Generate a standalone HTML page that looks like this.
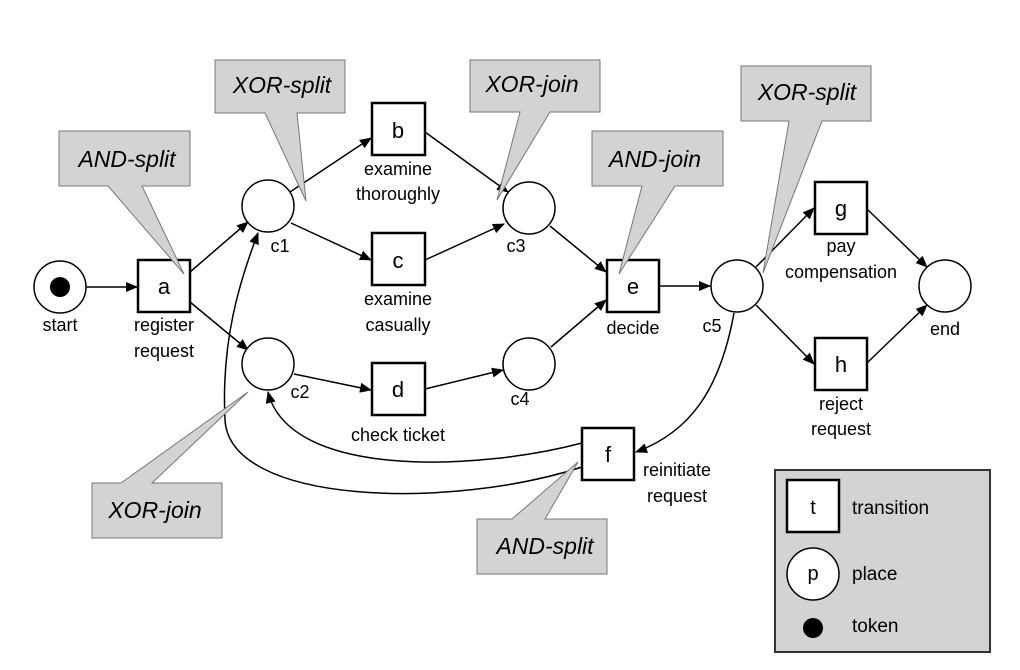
<!DOCTYPE html>
<html><head><meta charset="utf-8"><style>
body{margin:0;background:#fff}
svg text{font-family:"Liberation Sans",Arial,sans-serif;fill:#000}
.l{font-size:18px;text-anchor:middle}
.t{font-size:22px;text-anchor:middle}
.c{font-size:23px;font-style:italic;text-anchor:middle}
</style></head><body>
<svg width="1020" height="665" viewBox="0 0 1020 665" xmlns="http://www.w3.org/2000/svg">
<defs><marker id="ar" markerWidth="12" markerHeight="10" refX="11" refY="5" orient="auto" markerUnits="userSpaceOnUse"><path d="M0,0 L12,5 L0,10 Z" fill="#000"/></marker></defs>
<g stroke="#000" stroke-width="1.5" fill="none" marker-end="url(#ar)">
<line x1="86" y1="287" x2="137" y2="287"/>
<line x1="190" y1="272" x2="248" y2="222"/>
<line x1="190" y1="302" x2="248" y2="350"/>
<line x1="290" y1="192" x2="371" y2="138"/>
<line x1="291" y1="223" x2="371" y2="260"/>
<line x1="294" y1="374" x2="371" y2="390"/>
<line x1="425" y1="132" x2="508" y2="192"/>
<line x1="425" y1="260" x2="504" y2="224"/>
<line x1="425" y1="389" x2="503" y2="370"/>
<line x1="550" y1="226" x2="606" y2="272"/>
<line x1="551" y1="347" x2="606" y2="300"/>
<line x1="659" y1="286" x2="710" y2="286"/>
<line x1="756" y1="267" x2="814" y2="208"/>
<line x1="756" y1="305" x2="814" y2="364"/>
<line x1="867" y1="209" x2="927" y2="267"/>
<line x1="867" y1="363" x2="927" y2="305"/>
<path d="M734 313 C720 390 690 432 636 452"/>
<path d="M582 443 C480 470 290 480 268 392"/>
<path d="M582 467 C450 510 230 505 225 420 C221 340 240 280 258 233"/>
</g>
<g stroke="#000" stroke-width="1.5" fill="#fff">
<circle cx="60" cy="287" r="26"/>
<circle cx="268" cy="206" r="26"/>
<circle cx="268" cy="364" r="26"/>
<circle cx="529" cy="208" r="26"/>
<circle cx="529" cy="364" r="26"/>
<circle cx="737" cy="286" r="26"/>
<circle cx="945" cy="286" r="26"/>
</g>
<g stroke="#000" stroke-width="2.5" fill="#fff">
<rect x="138" y="260" width="52" height="52"/>
<rect x="372" y="103" width="53" height="52"/>
<rect x="372" y="233" width="53" height="52"/>
<rect x="372" y="363" width="53" height="52"/>
<rect x="607" y="260" width="52" height="52"/>
<rect x="815" y="182" width="52" height="52"/>
<rect x="815" y="338" width="52" height="52"/>
<rect x="582" y="428" width="52" height="52"/>
</g>
<circle cx="60" cy="287" r="10" fill="#000"/>
<g stroke="#777" stroke-width="1" fill="#d3d3d3">
<path d="M59 131 H190 V186 H142 L184 274 L108 186 H59 Z"/>
<path d="M215 60 H345 V113 H297 L306 201 L265 113 H215 Z"/>
<path d="M470 60 H600 V112 H550 L497 200 L520 112 H470 Z"/>
<path d="M592 131 H723 V186 H675 L619 274 L642 186 H592 Z"/>
<path d="M741 66 H871 V121 H822 L763 273 L789 121 H741 Z"/>
<path d="M92 483 H121 L248 392 L152 483 H222 V538 H92 Z"/>
<path d="M477 519 H512 L578 462 L545 519 H607 V574 H477 Z"/>
</g>
<text class="c" x="127" y="167">AND-split</text>
<text class="c" x="282" y="93">XOR-split</text>
<text class="c" x="532" y="92">XOR-join</text>
<text class="c" x="655" y="167">AND-join</text>
<text class="c" x="807" y="100">XOR-split</text>
<text class="c" x="155" y="518">XOR-join</text>
<text class="c" x="545" y="554">AND-split</text>
<text class="t" x="164" y="294">a</text>
<text class="t" x="398" y="138">b</text>
<text class="t" x="398" y="268">c</text>
<text class="t" x="398" y="397">d</text>
<text class="t" x="633" y="294">e</text>
<text class="t" x="841" y="216">g</text>
<text class="t" x="841" y="372">h</text>
<text class="t" x="608" y="462">f</text>
<text class="l" x="60" y="331">start</text>
<text class="l" x="164" y="331">register</text>
<text class="l" x="164" y="357">request</text>
<text class="l" x="280" y="252">c1</text>
<text class="l" x="300" y="398">c2</text>
<text class="l" x="398" y="175">examine</text>
<text class="l" x="398" y="200">thoroughly</text>
<text class="l" x="398" y="305">examine</text>
<text class="l" x="398" y="331">casually</text>
<text class="l" x="398" y="441">check ticket</text>
<text class="l" x="516" y="252">c3</text>
<text class="l" x="520" y="405">c4</text>
<text class="l" x="633" y="334">decide</text>
<text class="l" x="712" y="332">c5</text>
<text class="l" x="841" y="252">pay</text>
<text class="l" x="841" y="278">compensation</text>
<text class="l" x="945" y="335">end</text>
<text class="l" x="841" y="410">reject</text>
<text class="l" x="841" y="435">request</text>
<text class="l" x="677" y="476">reinitiate</text>
<text class="l" x="677" y="502">request</text>
<rect x="775" y="470" width="215" height="182" fill="#d3d3d3" stroke="#333" stroke-width="2"/>
<rect x="787" y="480" width="52" height="52" fill="#fff" stroke="#000" stroke-width="2.5"/>
<text class="l" x="813" y="514" style="font-size:20px">t</text>
<circle cx="813" cy="574" r="26" fill="#fff" stroke="#000" stroke-width="1.5"/>
<text class="l" x="813" y="580" style="font-size:20px">p</text>
<circle cx="813" cy="628" r="10" fill="#000"/>
<text x="852" y="514" style="font-size:19px">transition</text>
<text x="852" y="580" style="font-size:19px">place</text>
<text x="852" y="632" style="font-size:19px">token</text>
</svg>
</body></html>
